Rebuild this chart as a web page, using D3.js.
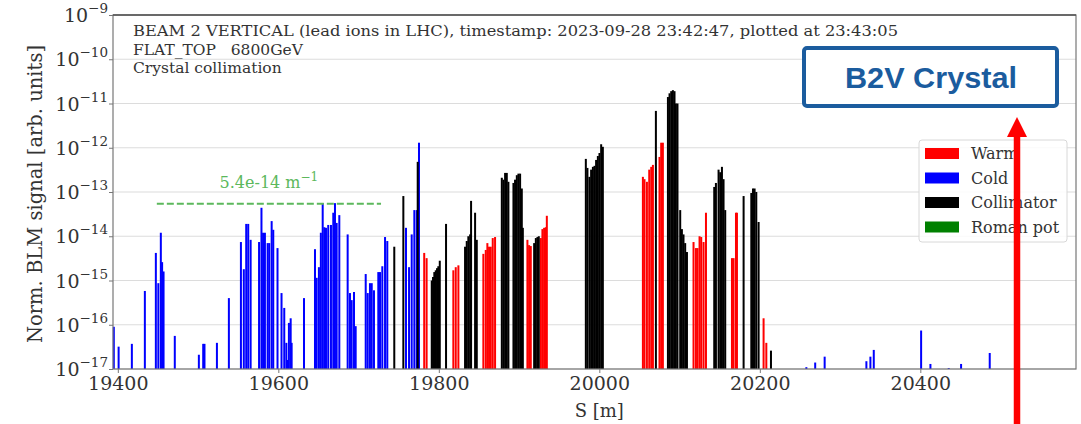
<!DOCTYPE html>
<html>
<head>
<meta charset="utf-8">
<script src="https://cdn.jsdelivr.net/npm/d3@7"></script>
<style>
  body { margin: 0; background: #fff; }
  svg { display: block; }
</style>
</head>
<body>
<div id="chart"></div>
<script>
// BLM loss map, beam 2 vertical, crystal collimation

// Cold (blue) bars: S position [m] and normalised signal
var coldS = [19395, 19401, 19417.5, 19433.7, 19447.4, 19450.5, 19453.6, 19455.2, 19457, 19471,
  19501, 19506.4, 19508, 19523.5, 19538.4, 19553.4, 19557, 19560, 19562.5, 19565.5,
  19576, 19579, 19581, 19583.3, 19586.7, 19588.7, 19591.7, 19593.7, 19599, 19604,
  19607.4, 19610, 19611.6, 19613.2, 19615.4, 19616.6, 19632, 19645.7, 19647.8, 19650.6,
  19653, 19655.3, 19657.3, 19659.4, 19662.2, 19665.6, 19668.5, 19670.6, 19672.7, 19676,
  19686.4, 19689.3, 19691.4, 19694.3, 19696.4, 19708.9, 19711.4, 19714.2, 19716.4, 19719.2,
  19724.6, 19726.7, 19729.6, 19733, 19735.8, 19759.1, 19762.9, 19766.2, 19769.5, 19772.5,
  19775.3, 20258, 20269, 20280.8, 20332.8, 20337.8, 20342, 20401, 20412.6, 20435.4,
  20450.8, 20486.5];
var coldV = [9e-17, 3.2e-17, 3.7e-17, 5.8e-16, 4.2e-15, 8.7e-16, 1.2e-14, 2.6e-15, 1.6e-15, 5.6e-17,
  2.1e-17, 3.7e-17, 3.7e-17, 3.9e-17, 4e-16, 7.4e-15, 1.8e-15, 1.9e-14, 1.9e-14, 8.3e-15,
  7.4e-15, 4.4e-14, 1.2e-14, 1.2e-14, 7e-15, 7e-15, 2.2e-14, 1.4e-14, 5.4e-15, 5.2e-16,
  2.4e-16, 3.9e-17, 1.6e-17, 1.1e-16, 1.4e-16, 3.9e-17, 4e-16, 5.1e-15, 1.15e-15, 2e-15,
  1.2e-14, 5.6e-14, 1.6e-14, 1.55e-14, 1.8e-14, 1.8e-14, 3.4e-14, 5.6e-14, 2e-14, 3e-14,
  1.1e-14, 5.2e-16, 3.6e-16, 5.5e-16, 9.3e-17, 1.4e-15, 5.2e-16, 8.7e-16, 8.7e-16, 6e-16,
  1.55e-15, 1.55e-15, 2.1e-15, 9.6e-15, 7.8e-15, 1.55e-14, 2e-15, 1.1e-14, 3.9e-14, 3.9e-14,
  1.3e-12, 1.1e-17, 1.4e-17, 1.9e-17, 1.5e-17, 1.9e-17, 2.7e-17, 7.4e-17, 1.3e-17, 1.05e-17,
  1.3e-17, 2.3e-17];

// Warm (red) bars
var warmS = [19781.8, 19784.8, 19818.1, 19821.1, 19824.4, 19855.5, 19858.5, 19860.5, 19862.6, 19864.7,
  19867.2, 19870.1, 19910.4, 19912.5, 19914.6, 19927.1, 19929.1, 19931.2, 19933.3, 19934.6,
  20054.3, 20056.3, 20059.3, 20062.2, 20064.7, 20066.8, 20075, 20077.1, 20079.2, 20117.4,
  20120.4, 20122.4, 20124.9, 20127, 20129.9, 20132.9, 20165.3, 20167.3, 20170.3, 20171.5,
  20204.7, 20208.1];
var warmV = [4.2e-15, 3.2e-15, 1.7e-15, 2e-15, 2.2e-15, 4e-15, 4.9e-15, 7e-15, 5.8e-15, 5.8e-15,
  9.1e-15, 9.6e-15, 8.3e-15, 6.3e-15, 6e-15, 9.1e-15, 1.45e-14, 1.55e-14, 1.6e-14, 2.9e-14,
  2.2e-13, 1.95e-13, 1.7e-13, 3.2e-13, 3.7e-13, 4.1e-13, 6.2e-13, 1.3e-12, 1.3e-12, 7.4e-15,
  5.4e-15, 5.4e-15, 1e-14, 9.6e-15, 7.4e-15, 3.4e-14, 3.2e-15, 3.2e-15, 3.4e-14, 3.4e-14,
  1.4e-16, 3.9e-17];

// Collimator (black) bars
var collS = [19744.5, 19755.8, 19773.7, 19791.2, 19792.8, 19794.4, 19796.2, 19797.8, 19799.4, 19801.2,
  19809, 19832.7, 19834.8, 19836.8, 19839, 19840.2, 19845.2, 19847.3, 19878.5, 19880.5,
  19882.6, 19884.7, 19886.7, 19893, 19895, 19897.2, 19899.2, 19901.3, 19903.4, 19904.7,
  19918.8, 19920.9, 19922.9, 19924.6, 19983.2, 19985.2, 19987.7, 19989.8, 19992, 19994,
  19996, 19998.2, 20000.2, 20002.3, 20004.4, 20070.5, 20085.5, 20087.5, 20089.6, 20091.7,
  20093.7, 20095.4, 20097.4, 20100.8, 20102.9, 20104.9, 20107, 20109.2, 20143.2, 20145.3,
  20148.6, 20150.7, 20152.8, 20154.8, 20156.9, 20179.8, 20189.4, 20191.5, 20193.5, 20195.6,
  20198.5, 20213.9];
var collV = [5.8e-15, 8.1e-14, 4.8e-13, 1e-15, 1.2e-15, 1.55e-15, 1.7e-15, 1.9e-15, 2.1e-15, 2.8e-15,
  1.9e-14, 5.8e-15, 7.8e-15, 1e-14, 1.1e-14, 6.3e-14, 3.4e-14, 8.3e-15, 2.1e-13, 1.9e-13,
  2.7e-13, 2.7e-13, 1.7e-13, 1.6e-13, 1.9e-13, 2.4e-13, 2.6e-13, 2.6e-13, 1.2e-13, 1.55e-14,
  7e-15, 9.1e-15, 9.6e-15, 1e-14, 5.6e-13, 3.5e-13, 2.2e-13, 3.2e-13, 3.7e-13, 3.9e-13,
  5.3e-13, 6.5e-13, 7.6e-13, 1.2e-12, 1.05e-12, 6.8e-12, 1.4e-11, 1.7e-11, 1.9e-11, 2e-11,
  1.9e-11, 1e-11, 1e-11, 3.9e-14, 1.45e-14, 1.1e-14, 7e-15, 4.4e-15, 1.3e-13, 1.6e-13,
  3.2e-13, 2.8e-13, 3.7e-13, 1.95e-13, 3.9e-14, 8.1e-14, 9.5e-14, 1.2e-13, 1.2e-13, 1e-13,
  2.1e-14, 2.6e-17];

var xTicks = [19400, 19600, 19800, 20000, 20200, 20400];
var yExps = [-17, -16, -15, -14, -13, -12, -11, -10, -9];
var legendNames = ["Warm", "Cold", "Collimator", "Roman pot"];
var legendColors = ["#ff0000", "#0000ff", "#000000", "#008000"];
var infoLines = ["BEAM 2 VERTICAL (lead ions in LHC), timestamp: 2023-09-28 23:42:47, plotted at 23:43:05",
  "FLAT_TOP   6800GeV", "Crystal collimation"];
var coldLimit = 5.4e-14;
var coldLimitRange = [19448.6, 19728];

var serif = "'DejaVu Serif', serif";

var margin = { top: 15, right: 5, bottom: 55, left: 113 },
    width = 1081 - margin.left - margin.right,
    height = 424 - margin.top - margin.bottom;

var svg = d3.select("#chart")
    .append("svg")
    .attr("width", 1081)
    .attr("height", 424);

var g = svg.append("g")
    .attr("transform", "translate(" + margin.left + "," + margin.top + ")");

var x = d3.scaleLinear()
    .domain([19394, 20594])
    .range([0, width]);

var y = d3.scaleLog()
    .domain([1e-17, 1e-9])
    .range([height, 0]);

// horizontal grid
g.append("g")
    .selectAll("line")
    .data(yExps)
    .enter()
    .append("line")
    .attr("x1", 0)
    .attr("x2", width)
    .attr("y1", d => y(Math.pow(10, d)))
    .attr("y2", d => y(Math.pow(10, d)))
    .style("stroke", "#dcdcdc")
    .style("stroke-width", 1.2);

// bars
function drawBars(sArr, vArr, color) {
    g.append("g")
        .selectAll("rect")
        .data(sArr.map((s, i) => ({ s: s, v: vArr[i] })))
        .enter()
        .append("rect")
        .attr("x", d => x(d.s) - 1)
        .attr("width", 2)
        .attr("y", d => y(d.v))
        .attr("height", d => height - y(d.v))
        .style("fill", color);
}
drawBars(coldS, coldV, legendColors[1]);
drawBars(warmS, warmV, legendColors[0]);
drawBars(collS, collV, legendColors[2]);

// cold limit line
g.append("line")
    .attr("x1", x(coldLimitRange[0]))
    .attr("x2", x(coldLimitRange[1]))
    .attr("y1", y(coldLimit))
    .attr("y2", y(coldLimit))
    .style("stroke", "#5cb85c")
    .style("stroke-width", 2)
    .style("stroke-dasharray", "7,3");

var lim = g.append("text")
    .attr("x", x((coldLimitRange[0] + coldLimitRange[1]) / 2))
    .attr("y", y(coldLimit) - 16)
    .attr("text-anchor", "middle")
    .style("font-family", serif)
    .style("font-size", "16px")
    .style("fill", "#5cb85c")
    .text("5.4e-14 m");
lim.append("tspan")
    .attr("dy", -7)
    .style("font-size", "12px")
    .text("\u22121");

// axes frame
var axisColor = "#777";
g.append("rect")
    .attr("x", 0).attr("y", 0)
    .attr("width", width).attr("height", height)
    .style("fill", "none")
    .style("stroke", axisColor)
    .style("stroke-width", 1.2);
g.append("line")
    .attr("x1", 0).attr("x2", width)
    .attr("y1", 0).attr("y2", 0)
    .style("stroke", "#555")
    .style("stroke-width", 1.5);

// x axis
var xAxis = g.append("g")
    .attr("transform", "translate(0," + height + ")")
    .call(d3.axisBottom(x).tickValues(xTicks).tickSize(4).tickPadding(4).tickFormat(d3.format("d")));
xAxis.select(".domain").remove();
xAxis.selectAll("line").style("stroke", axisColor);
xAxis.selectAll("text")
    .style("font-family", serif)
    .style("font-size", "19px")
    .style("fill", "#333");

// y axis with 10^n labels
var yAxis = g.append("g")
    .call(d3.axisLeft(y).tickValues(yExps.map(e => Math.pow(10, e))).tickSize(4).tickFormat(""));
yAxis.select(".domain").remove();
yAxis.selectAll("line").style("stroke", axisColor);

var yl = g.append("g")
    .selectAll("text")
    .data(yExps)
    .enter()
    .append("text")
    .attr("x", -5)
    .attr("y", d => y(Math.pow(10, d)) + 7)
    .attr("text-anchor", "end")
    .style("font-family", serif)
    .style("font-size", "19px")
    .style("fill", "#333");
yl.append("tspan").text("10");
yl.append("tspan")
    .attr("dy", -9)
    .style("font-size", "13.5px")
    .text(d => "\u2212" + Math.abs(d));

// axis titles
svg.append("text")
    .attr("transform", "translate(42," + (margin.top + height / 2 + 2) + ") rotate(-90)")
    .attr("text-anchor", "middle")
    .style("font-family", serif)
    .style("font-size", "19.5px")
    .style("fill", "#333")
    .text("Norm. BLM signal [arb. units]");

svg.append("text")
    .attr("x", margin.left + x(20000))
    .attr("y", 417)
    .attr("text-anchor", "middle")
    .style("font-family", serif)
    .style("font-size", "18px")
    .style("fill", "#333")
    .text("S [m]");

// info text
g.append("g")
    .selectAll("text")
    .data(infoLines)
    .enter()
    .append("text")
    .attr("x", 20)
    .attr("y", (d, i) => 21 + i * 18.5)
    .attr("textLength", (d, i) => i === 0 ? 765 : null)
    .attr("lengthAdjust", "spacingAndGlyphs")
    .style("font-family", serif)
    .style("font-size", "15.5px")
    .style("fill", "#333")
    .style("white-space", "pre")
    .text(d => d);

// legend
var legend = svg.append("g").attr("transform", "translate(919,140)");
legend.append("rect")
    .attr("width", 148).attr("height", 102)
    .attr("rx", 3)
    .style("fill", "#fff")
    .style("fill-opacity", 0.85)
    .style("stroke", "#d8d8d8");
var items = legend.selectAll(".item")
    .data(legendNames)
    .enter()
    .append("g")
    .attr("transform", (d, i) => "translate(0," + (14 + i * 24.5) + ")");
items.append("rect")
    .attr("x", 6).attr("y", -6)
    .attr("width", 34).attr("height", 11)
    .style("fill", (d, i) => legendColors[i]);
items.append("text")
    .attr("x", 52).attr("y", 5)
    .style("font-family", serif)
    .style("font-size", "16px")
    .style("fill", "#333")
    .text(d => d);

// B2V Crystal label box
svg.append("rect")
    .attr("x", 804).attr("y", 48)
    .attr("width", 253).attr("height", 58)
    .attr("rx", 3)
    .style("fill", "#fff")
    .style("stroke", "#1b5c9e")
    .style("stroke-width", 4);
svg.append("text")
    .attr("x", 931).attr("y", 88)
    .attr("text-anchor", "middle")
    .attr("textLength", 172)
    .attr("lengthAdjust", "spacingAndGlyphs")
    .style("font-family", "'Liberation Sans', Arial, sans-serif")
    .style("font-weight", "bold")
    .style("font-size", "29px")
    .style("fill", "#1b5c9e")
    .text("B2V Crystal");

// red arrow
svg.append("line")
    .attr("x1", 1017).attr("x2", 1017)
    .attr("y1", 424).attr("y2", 134)
    .style("stroke", "#ff0000")
    .style("stroke-width", 6.5);
svg.append("path")
    .attr("d", "M1017,117 L1007,137 L1027,137 Z")
    .style("fill", "#ff0000");
</script>
</body>
</html>
